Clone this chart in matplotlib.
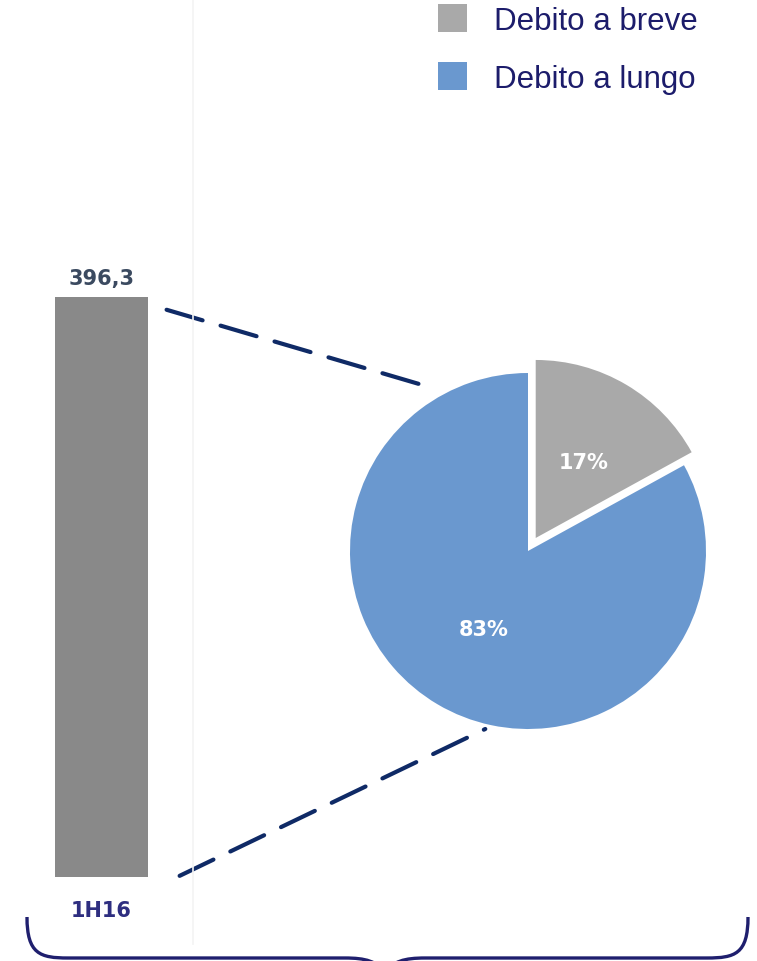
import matplotlib.pyplot as plt
from matplotlib.patches import Patch, ConnectionPatch, PathPatch
from matplotlib.path import Path
from matplotlib.lines import Line2D

# data
periods = ["1H16"]
totals = [396.3]
debt_labels = ["Debito a breve", "Debito a lungo"]
debt_shares = [17, 83]

bar_color = "#898989"
pie_colors = ["#a9a9a9", "#6a98cf"]
navy = "#1c1c6b"
dash_color = "#0f2a66"

W, H = 757, 962
fig = plt.figure(figsize=(W / 100, H / 100), dpi=100)
fig.patch.set_facecolor("white")


def px_rect(x0, y0, x1, y1):
    # pixel box (top-left origin) -> figure fraction rect
    return [x0 / W, 1 - y1 / H, (x1 - x0) / W, (y1 - y0) / H]


# faint separator
fig.add_artist(Line2D([193 / W, 193 / W], [1 - 945 / H, 1], color="#f3f3f3", lw=1.2))

# bar
ax_bar = fig.add_axes(px_rect(55, 298, 148, 878))
ax_bar.bar(periods, totals, width=1.0, color=bar_color)
ax_bar.set_xlim(-0.5, 0.5)
ax_bar.set_ylim(0, totals[0])
ax_bar.axis("off")
ax_bar.text(0, totals[0] * 1.015, f"{totals[0]:.1f}".replace(".", ","), ha="center", va="bottom",
            fontsize=15, fontweight="bold", color="#3b4a60")
ax_bar.text(0, -totals[0] * 0.04, periods[0], ha="center", va="top",
            fontsize=15, fontweight="bold", color="#2e2e80")

# pie
cx, cy, r = 528, 552, 178
half = r * 1.25
ax_pie = fig.add_axes(px_rect(cx - half, cy - half, cx + half, cy + half))
wedges, texts = ax_pie.pie(debt_shares, colors=pie_colors, startangle=90, counterclock=False,
                           explode=[0.085, 0], radius=1.0,
                           wedgeprops=dict(linewidth=0))
ax_pie.set_xlim(-1.25, 1.25)
ax_pie.set_ylim(-1.25, 1.25)
ax_pie.set_aspect("equal")
ax_pie.axis("off")
ax_pie.text(0.31, 0.5, f"{debt_shares[0]}%", ha="center", va="center", fontsize=15,
            fontweight="bold", color="white")
ax_pie.text(-0.25, -0.44, f"{debt_shares[1]}%", ha="center", va="center", fontsize=15,
            fontweight="bold", color="white")

# dashed connectors
for xa, ya, xb, yb in [(0.70, totals[0] * 0.978, -0.55, 0.92), (0.84, totals[0] * 0.002, -0.24, -1.0)]:
    con = ConnectionPatch(xyA=(xa, ya), coordsA=ax_bar.transData, xyB=(xb, yb), coordsB=ax_pie.transData,
                          color=dash_color, lw=3, linestyle=(0, (9, 4.5)))
    fig.add_artist(con)

# legend
handles = [Patch(facecolor=c, edgecolor="none") for c in pie_colors]
fig.legend(handles, debt_labels, loc="upper left", bbox_to_anchor=(438 / W, 1 - 5 / H),
           frameon=False, handlelength=0.93, handleheight=1.0,
           handletextpad=0.85, labelspacing=0.85, borderaxespad=0, borderpad=0,
           labelcolor=navy, prop={"family": "Liberation Sans", "size": 22.5})

# brace
def P(x, y):
    return (x / W, 1 - y / H)

verts = [P(27, 918), P(27, 955), P(40, 959), P(68, 959),
         P(345, 959), P(365, 959), P(378, 962), P(385, 975),
         P(392, 962), P(405, 959), P(425, 959),
         P(707, 959), P(735, 959), P(748, 955), P(748, 918)]
codes = [Path.MOVETO, Path.CURVE4, Path.CURVE4, Path.CURVE4,
         Path.LINETO, Path.CURVE4, Path.CURVE4, Path.CURVE4,
         Path.CURVE4, Path.CURVE4, Path.CURVE4,
         Path.LINETO, Path.CURVE4, Path.CURVE4, Path.CURVE4]
brace = PathPatch(Path(verts, codes), transform=fig.transFigure, facecolor="none",
                  edgecolor="#1f1f6e", lw=2.4)
fig.add_artist(brace)

fig.savefig("out.png", dpi=100, facecolor="white")
